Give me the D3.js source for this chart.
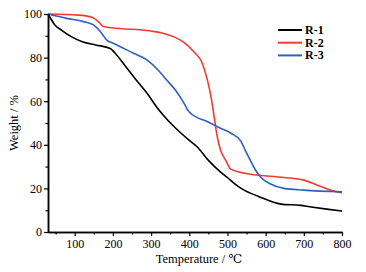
<!DOCTYPE html>
<html>
<head>
<meta charset="utf-8">
<script src="https://cdn.jsdelivr.net/npm/d3@7"></script>
<style>
  body { margin: 0; background: #fff; }
  text { font-family: "Liberation Serif", "DejaVu Serif", serif; }
</style>
</head>
<body>
<div class="graph"></div>
<script>
const seriesNames = ["R-1", "R-2", "R-3"]
const seriesColors = ["#000000", "#f23a33", "#2f5fbf"]

// [temperature, weight %]
const r1 = [[30,100],[48,95],[66,92.5],[92,89.5],[120,87.3],[155,85.8],[193,84.2],[206,82],[233,76],[260,70],
  [290,63.5],[318,56.5],[345,51],[368,47],[400,42],[421,39],[452,32.5],[482,27.5],[500,25],[520,22],[538,19.8],
  [583,16.2],[640,12.8],[692,12.2],[715,11.6],[760,10.5],[800,9.6]]
const r2 = [[30,100],[110,99.5],[145,98.5],[162,96.5],[175,94.3],[197,93.7],[300,92.2],[333,91.1],[360,89.5],
  [386,87],[412,82.7],[434,77.4],[447,70],[458,61],[465,53],[473,44],[482,37.5],[495,33],[509,28.8],
  [530,27.5],[560,26.5],[648,25],[700,23.8],[736,21.5],[771,19.2],[800,18]]
const r3 = [[30,100],[79,98],[123,96.5],[149,95],[167,92],[184,88],[202,86.5],[254,82],[289,79],[320,74],
  [342,69.5],[364,65],[383,60],[400,55],[420,52.6],[445,50.8],[482,47.6],[509,45.3],[535,41.7],[548,37],[561,32.5],
  [575,28],[588,25],[613,22],[648,20],[700,19.2],[800,18.4]]

const xTicks = [100, 200, 300, 400, 500, 600, 700, 800]
const yTicks = [0, 20, 40, 60, 80, 100]

const width = 366
const height = 272
const margin = ({top: 14, right: 24, bottom: 40, left: 48})

const x = d3.scaleLinear()
  .domain([30, 800])
  .range([margin.left, width - margin.right])
const y = d3.scaleLinear()
  .domain([0, 100])
  .range([height - margin.bottom, margin.top])

const svg = d3.select(".graph").append("svg")
  .attr("width", width)
  .attr("height", height)

const line = d3.line()
  .x(d => x(d[0]))
  .y(d => y(d[1]))
  .curve(d3.curveMonotoneX)

const data = [r1, r2, r3]
data.forEach((s, i) => {
  svg.append("path")
    .datum(s)
    .attr("fill", "none")
    .attr("stroke", seriesColors[i])
    .attr("stroke-width", 1.6)
    .attr("d", line)
})

// minor ticks
const xMinor = d3.range(50, 800, 100)
const yMinor = d3.range(10, 100, 20)

const xAxis = g => g
  .attr("transform", `translate(0,${height - margin.bottom})`)
  .call(d3.axisBottom(x).tickValues(xTicks).tickSize(4).tickPadding(3).tickSizeOuter(0))
const xAxisMinor = g => g
  .attr("transform", `translate(0,${height - margin.bottom})`)
  .call(d3.axisBottom(x).tickValues(xMinor).tickSize(2.5).tickFormat("").tickSizeOuter(0))
const yAxis = g => g
  .attr("transform", `translate(${margin.left},0)`)
  .call(d3.axisLeft(y).tickValues(yTicks).tickSize(4).tickPadding(2).tickSizeOuter(0))
const yAxisMinor = g => g
  .attr("transform", `translate(${margin.left},0)`)
  .call(d3.axisLeft(y).tickValues(yMinor).tickSize(2.5).tickFormat("").tickSizeOuter(0))

svg.append("g").call(xAxisMinor)
svg.append("g").call(yAxisMinor)
svg.append("g").call(xAxis)
svg.append("g").call(yAxis)

svg.selectAll(".domain").attr("stroke-width", 1.5).attr("stroke", "#000")
svg.selectAll(".tick line").attr("stroke-width", 1.2).attr("stroke", "#000")
svg.selectAll(".tick text").attr("font-size", 12).attr("font-family", "Liberation Serif").attr("fill", "#000")

svg.append("text")
  .attr("x", 199)
  .attr("y", 263)
  .attr("text-anchor", "middle")
  .attr("font-size", 12.5)
  .text("Temperature / ℃")

svg.append("text")
  .attr("transform", `translate(18,${y(50)}) rotate(-90)`)
  .attr("text-anchor", "middle")
  .attr("font-size", 12.5)
  .text("Weight / %")

// legend
const legend = svg.append("g").attr("transform", "translate(278,30)")
seriesNames.forEach((n, i) => {
  legend.append("line")
    .attr("x1", 0).attr("x2", 24)
    .attr("y1", i * 12.7).attr("y2", i * 12.7)
    .attr("stroke", seriesColors[i])
    .attr("stroke-width", 2)
  legend.append("text")
    .attr("x", 27)
    .attr("y", i * 12.7 + 4)
    .attr("font-size", 12)
    .attr("font-weight", "bold")
    .text(n)
})
</script>
</body>
</html>
